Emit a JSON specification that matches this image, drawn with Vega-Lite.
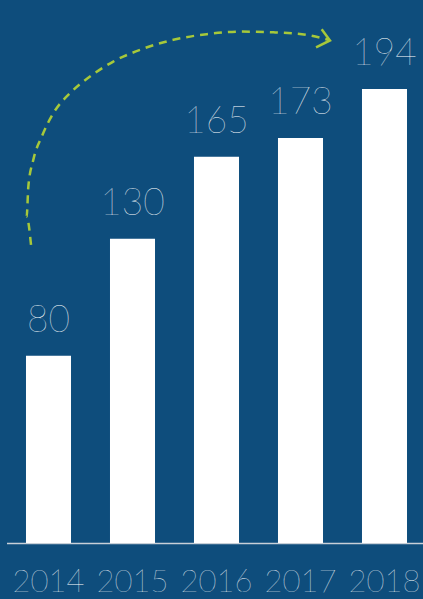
{
  "$schema": "https://vega.github.io/schema/vega-lite/v6.json",
  "width": 420,
  "height": 543,
  "autosize": {"type": "none"},
  "padding": {"left": 6.5, "top": 0, "right": 0, "bottom": 56},
  "background": "#0e4d7c",
  "config": {
    "view": {"stroke": null},
    "font": "Lato"
  },
  "datasets": {
    "bars": [
      {"year": "2014", "value": 80},
      {"year": "2015", "value": 130},
      {"year": "2016", "value": 165},
      {"year": "2017", "value": 173},
      {"year": "2018", "value": 194}
    ],
    "arrow": [
      {"part": "curve", "k": 1, "pos": -0.208, "v": 127.4},
      {"part": "curve", "k": 2, "pos": -0.26, "v": 139.4},
      {"part": "curve", "k": 3, "pos": -0.24, "v": 152.3},
      {"part": "curve", "k": 4, "pos": -0.181, "v": 163.7},
      {"part": "curve", "k": 5, "pos": -0.081, "v": 173.6},
      {"part": "curve", "k": 6, "pos": 0.057, "v": 183.6},
      {"part": "curve", "k": 7, "pos": 0.256, "v": 192.2},
      {"part": "curve", "k": 8, "pos": 0.494, "v": 199.3},
      {"part": "curve", "k": 9, "pos": 0.771, "v": 205.7},
      {"part": "curve", "k": 10, "pos": 1.089, "v": 210.7},
      {"part": "curve", "k": 11, "pos": 1.486, "v": 215.0},
      {"part": "curve", "k": 12, "pos": 1.883, "v": 217.4},
      {"part": "curve", "k": 13, "pos": 2.28, "v": 218.5},
      {"part": "curve", "k": 14, "pos": 2.676, "v": 218.2},
      {"part": "curve", "k": 15, "pos": 3.074, "v": 217.1},
      {"part": "curve", "k": 16, "pos": 3.331, "v": 215.0}
    ],
    "head": [
      {"k": 1, "pos": 3.252, "v": 219.5},
      {"k": 2, "pos": 3.351, "v": 214.7},
      {"k": 3, "pos": 3.185, "v": 211.8}
    ]
  },
  "layer": [
    {
      "data": {"name": "bars"},
      "mark": {"type": "bar", "color": "#ffffff"},
      "encoding": {
        "x": {
          "field": "year", "type": "ordinal",
          "scale": {"paddingInner": 0.464, "paddingOuter": 0.232},
          "axis": {
            "title": null, "ticks": false, "tickSize": 0,
            "labelAngle": 0, "labelFontSize": 31, "labelFontWeight": 100,
            "labelColor": "#ffffff", "labelPadding": 24,
            "domainColor": "#c8d0d8", "domainWidth": 1.5, "grid": false
          }
        },
        "y": {
          "field": "value", "type": "quantitative",
          "scale": {"domain": [0, 232], "nice": false},
          "axis": null
        }
      }
    },
    {
      "data": {"name": "bars"},
      "mark": {"type": "text", "color": "#ffffff", "fontSize": 37, "fontWeight": 100, "baseline": "alphabetic", "dy": -24},
      "encoding": {
        "x": {"field": "year", "type": "ordinal", "axis": null},
        "y": {"field": "value", "type": "quantitative"},
        "text": {"field": "value", "type": "quantitative"}
      }
    },
    {
      "data": {"name": "arrow"},
      "mark": {"type": "line", "color": "#a6c83a", "strokeWidth": 2.5, "strokeDash": [8, 6], "interpolate": "monotone"},
      "encoding": {
        "x": {"field": "pos", "type": "quantitative", "scale": {"domain": [-0.5, 4.5], "nice": false, "zero": false}, "axis": null},
        "y": {"field": "v", "type": "quantitative"},
        "order": {"field": "k"}
      }
    },
    {
      "data": {"name": "head"},
      "mark": {"type": "line", "color": "#a6c83a", "strokeWidth": 2.5},
      "encoding": {
        "x": {"field": "pos", "type": "quantitative", "scale": {"domain": [-0.5, 4.5], "nice": false, "zero": false}, "axis": null},
        "y": {"field": "v", "type": "quantitative"},
        "order": {"field": "k"}
      }
    }
  ],
  "resolve": {"scale": {"x": "independent"}, "axis": {"x": "independent"}}
}
